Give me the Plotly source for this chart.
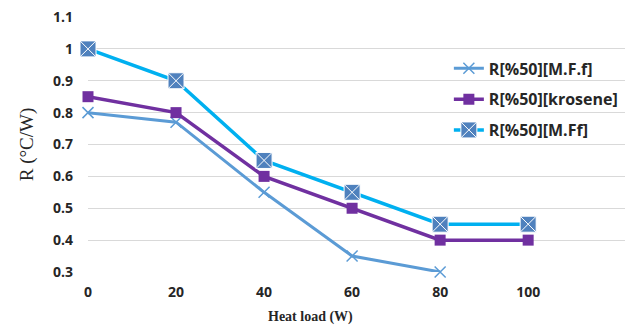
import plotly.graph_objects as go

heat_load = [0, 20, 40, 60, 80, 100]
r_mff_dot = [0.80, 0.77, 0.55, 0.35, 0.30]
r_krosene = [0.85, 0.80, 0.60, 0.50, 0.40, 0.40]
r_mff = [1.00, 0.90, 0.65, 0.55, 0.45, 0.45]
names = ["R[%50][M.F.f]", "R[%50][krosene]", "R[%50][M.Ff]"]
y_ticks = [0.3, 0.4, 0.5, 0.6, 0.7, 0.8, 0.9, 1.0, 1.1]
y_labels = ["0.3", "0.4", "0.5", "0.6", "0.7", "0.8", "0.9", "1", "1.1"]

fig = go.Figure()
fig.add_trace(go.Scatter(
    x=heat_load[:len(r_mff_dot)], y=r_mff_dot, name=names[0], mode="lines+markers",
    legendgroup="a",
    line=dict(color="#5B9BD5", width=3),
    marker=dict(symbol="x-thin", size=11, line=dict(color="#5B9BD5", width=1.5)),
))
fig.add_trace(go.Scatter(
    x=heat_load, y=r_krosene, name=names[1], mode="lines+markers",
    legendgroup="b",
    line=dict(color="#7030A0", width=3.5),
    marker=dict(symbol="square", size=11, color="#7030A0"),
))
fig.add_trace(go.Scatter(
    x=heat_load, y=r_mff, name=names[2], mode="lines+markers",
    legendgroup="c",
    line=dict(color="#00B0F0", width=3.5),
    marker=dict(symbol="square-x", size=16, color="#4F81BD", line=dict(color="white", width=1)),
))

fig.update_layout(
    width=632, height=327,
    margin=dict(l=88, r=7, t=17, b=55),
    paper_bgcolor="white", plot_bgcolor="white",
    font=dict(family="Open Sans", color="#404040"),
    legend=dict(
        x=0.672, y=0.865, xanchor="left", yanchor="top",
        bgcolor="rgba(0,0,0,0)",
        font=dict(family="Open Sans", size=16, color="#262626", weight="bold"),
        tracegroupgap=7, itemwidth=30,
    ),
    showlegend=True,
    annotations=[dict(
        text="Heat load (W)", xref="paper", yref="paper", x=0.415, y=-0.176,
        xanchor="center", yanchor="middle", showarrow=False,
        font=dict(family="Liberation Serif", size=14, color="#262626", weight="bold"),
    )],
)
fig.update_xaxes(
    range=[0, 122], tickvals=heat_load[:6], ticktext=[str(v) for v in heat_load],
    showgrid=False, zeroline=False, showline=False, ticks="",
    tickfont=dict(family="Open Sans", size=14, color="#262626", weight="bold"),
    ticklabelstandoff=10,
)
fig.update_yaxes(
    range=[0.3, 1.1], tickvals=y_ticks, ticktext=y_labels,
    showgrid=True, gridcolor="#D9D9D9", gridwidth=1, zeroline=False, showline=False, ticks="",
    tickfont=dict(family="Open Sans", size=14, color="#262626", weight="bold"),
    ticklabelstandoff=14,
    title=dict(text="R (°C/W)", font=dict(family="Liberation Serif", size=19, color="#262626"), standoff=14),
)
for tr in fig.data:
    tr.cliponaxis = False

fig.write_html("out.html")
